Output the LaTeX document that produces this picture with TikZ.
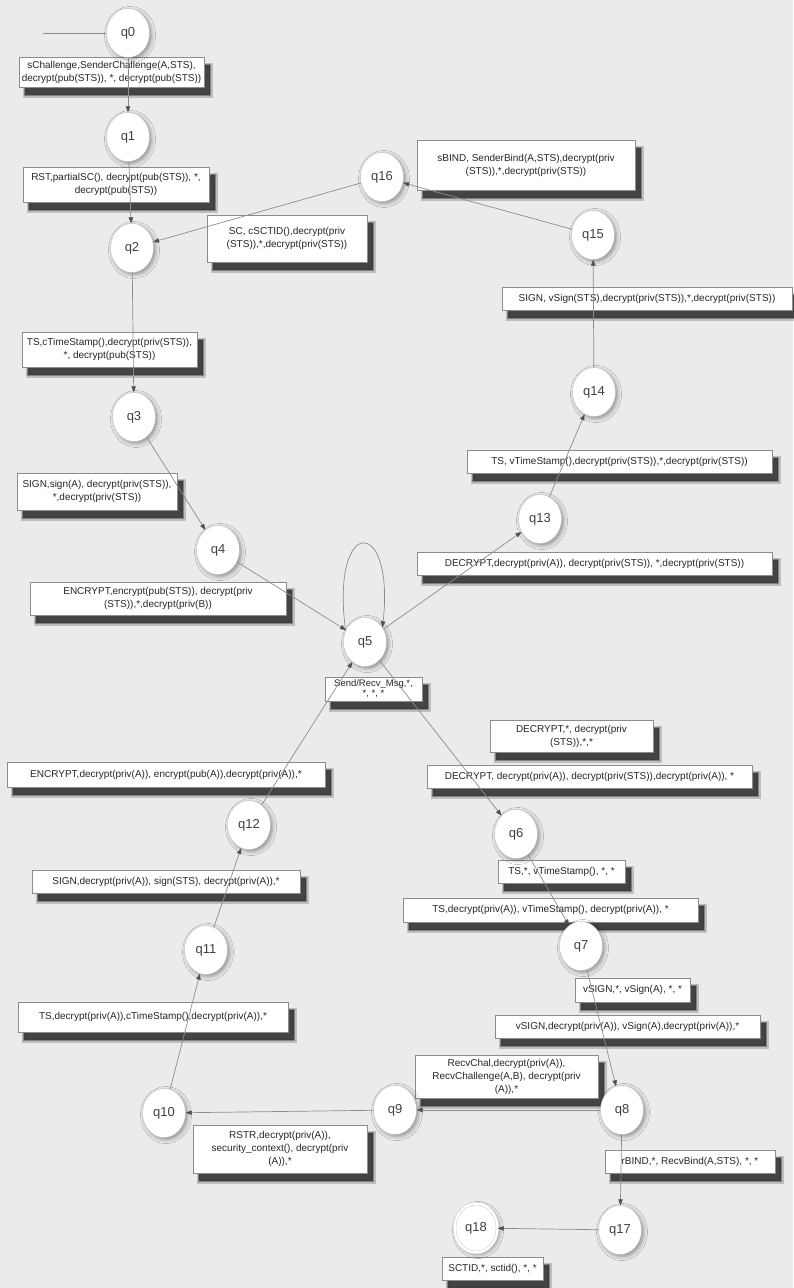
\documentclass[tikz,border=0pt]{standalone}
\usepackage{fontspec}
\setmainfont{Liberation Sans}
\usetikzlibrary{shapes.geometric,shadows.blur,arrows.meta}
\definecolor{bgc}{HTML}{EBEBEB}
\definecolor{edgec}{HTML}{8C8C8C}
\definecolor{tipc}{HTML}{505050}
\definecolor{shc}{HTML}{3A3A3A}
\begin{document}
\begin{tikzpicture}[x=1pt,y=-1pt,
  state/.style={ellipse, draw=black!25, fill=white, minimum width=43pt, minimum height=49pt, inner sep=0pt,
    font=\fontsize{13}{14}\selectfont, text=black!75,
    blur shadow={shadow xshift=2pt, shadow yshift=-2pt, shadow blur radius=4pt, shadow opacity=40}},
  lbl/.style={rectangle, draw=black!45, fill=white, align=center, inner sep=1pt,
    font=\fontsize{10}{13}\selectfont, text=black!85,
    preaction={draw=shc, line width=5pt, fill=shc, opacity=0.25, transform canvas={shift={(6pt,-8pt)}}},
    preaction={draw=shc, line width=2.5pt, fill=shc, opacity=0.45, transform canvas={shift={(6pt,-8pt)}}},
    preaction={fill=shc, opacity=0.85, transform canvas={shift={(6pt,-8pt)}}}},
  edge/.style={draw=edgec, line width=0.7pt, -{Triangle[length=6pt,width=4.5pt,color=tipc]}}
]
\fill[bgc] (0,0) rectangle (793,1288);
\useasboundingbox (0,0) rectangle (793,1288);

% transition labels
\node[lbl, minimum width=185pt, minimum height=30pt] (l0) at (111.5,72) {sChallenge,SenderChallenge(A,STS),\\decrypt(pub(STS)), *, decrypt(pub(STS))};
\node[lbl, minimum width=186pt, minimum height=35pt] (l1) at (116,184.5) {RST,partialSC(), decrypt(pub(STS)), *,\\decrypt(pub(STS))};
\node[lbl, minimum width=160pt, minimum height=47pt] (l2) at (287,238.5) {SC, cSCTID(),decrypt(priv\\(STS)),*,decrypt(priv(STS))};
\node[lbl, minimum width=218pt, minimum height=50pt] (l3) at (526,165) {sBIND, SenderBind(A,STS),decrypt(priv\\(STS)),*,decrypt(priv(STS))};
\node[lbl, minimum width=290pt, minimum height=23pt] (l4) at (647,298.5) {SIGN, vSign(STS),decrypt(priv(STS)),*,decrypt(priv(STS))};
\node[lbl, minimum width=175pt, minimum height=35pt] (l5) at (109.5,349.5) {TS,cTimeStamp(),decrypt(priv(STS)),\\*, decrypt(pub(STS))};
\node[lbl, minimum width=305pt, minimum height=23pt] (l6) at (619.5,461.5) {TS, vTimeStamp(),decrypt(priv(STS)),*,decrypt(priv(STS))};
\node[lbl, minimum width=160pt, minimum height=37pt] (l7) at (97,491.5) {SIGN,sign(A), decrypt(priv(STS)),\\*,decrypt(priv(STS))};
\node[lbl, minimum width=256pt, minimum height=33pt] (l8) at (158,598.5) {ENCRYPT,encrypt(pub(STS)), decrypt(priv\\(STS)),*,decrypt(priv(B))};
\node[lbl, minimum width=355pt, minimum height=23pt] (l9) at (594.5,563.5) {DECRYPT,decrypt(priv(A)), decrypt(priv(STS)), *,decrypt(priv(STS))};
\node[lbl, minimum width=97pt, minimum height=24pt, inner sep=0.5pt, font=\fontsize{9.5}{10}\selectfont] (l10) at (373.5,689) {Send/Recv\_Msg,*,\\*, *, *};
\node[lbl, minimum width=318pt, minimum height=25pt] (l11) at (166,774.5) {ENCRYPT,decrypt(priv(A)), encrypt(pub(A)),decrypt(priv(A)),*};
\node[lbl, minimum width=163pt, minimum height=32pt] (l12) at (571.5,736) {DECRYPT,*, decrypt(priv\\(STS)),*,*};
\node[lbl, minimum width=325pt, minimum height=23pt] (l13) at (589.5,776.5) {DECRYPT, decrypt(priv(A)), decrypt(priv(STS)),decrypt(priv(A)), *};
\node[lbl, minimum width=268pt, minimum height=23pt] (l14) at (166,881.5) {SIGN,decrypt(priv(A)), sign(STS), decrypt(priv(A)),*};
\node[lbl, minimum width=127pt, minimum height=23pt] (l15) at (561.5,871.5) {TS,*, vTimeStamp(), *, *};
\node[lbl, minimum width=295pt, minimum height=24pt] (l16) at (550.5,910) {TS,decrypt(priv(A)), vTimeStamp(), decrypt(priv(A)), *};
\node[lbl, minimum width=115pt, minimum height=24pt] (l17) at (632.5,990) {vSIGN,*, vSign(A), *, *};
\node[lbl, minimum width=265pt, minimum height=23pt] (l18) at (627.5,1026.5) {vSIGN,decrypt(priv(A)), vSign(A),decrypt(priv(A)),*};
\node[lbl, minimum width=270pt, minimum height=30pt] (l19) at (153,1017) {TS,decrypt(priv(A)),cTimeStamp(),decrypt(priv(A)),*};
\node[lbl, minimum width=183pt, minimum height=43pt] (l20) at (506.5,1076.5) {RecvChal,decrypt(priv(A)),\\RecvChallenge(A,B), decrypt(priv\\(A)),*};
\node[lbl, minimum width=174pt, minimum height=48pt] (l21) at (280,1149) {RSTR,decrypt(priv(A)),\\security\_context(), decrypt(priv\\(A)),*};
\node[lbl, minimum width=170pt, minimum height=23pt] (l22) at (690,1161.5) {rBIND,*, RecvBind(A,STS), *, *};
\node[lbl, minimum width=101pt, minimum height=23pt] (l23) at (492.5,1268.5) {SCTID,*, sctid(), *, *};

% states
\node[state] (q0) at (128,33) {q0};
\node[state] (q1) at (128,137) {q1};
\node[state] (q2) at (132,248) {q2};
\node[state] (q3) at (134,417) {q3};
\node[state] (q4) at (218,550) {q4};
\node[state] (q5) at (365,642) {q5};
\node[state] (q6) at (516,834) {q6};
\node[state] (q7) at (581,946) {q7};
\node[state] (q8) at (622,1110) {q8};
\node[state] (q9) at (395,1110) {q9};
\node[state] (q10) at (164,1113) {q10};
\node[state] (q11) at (206,950) {q11};
\node[state] (q12) at (249,825) {q12};
\node[state] (q13) at (540,519) {q13};
\node[state] (q14) at (594,392) {q14};
\node[state] (q15) at (593,235) {q15};
\node[state] (q16) at (382,177) {q16};
\node[state] (q17) at (620,1230) {q17};
\node[state, double=white, double distance=2.5pt] (q18) at (476,1228) {q18};

% transitions
\coordinate (init) at (43,33);
\draw[draw=edgec, line width=0.7pt] (init) -- (q0);
\draw[edge] (q0) -- (q1);
\draw[edge] (q1) -- (q2);
\draw[edge] (q2) -- (q3);
\draw[edge] (q3) -- (q4);
\draw[edge] (q4) -- (q5);
\draw[edge] (q5.150) .. controls (330,515) and (395,515) .. (q5.40);
\draw[edge] (q5) -- (q13);
\draw[edge] (q13) -- (q14);
\draw[edge] (q14) -- (q15);
\draw[edge] (q15) -- (q16);
\draw[edge] (q16) -- (q2);
\draw[edge] (q5) -- (q6);
\draw[edge] (q6) -- (q7);
\draw[edge] (q7) -- (q8);
\draw[edge] (q8) -- (q9);
\draw[edge] (q9) -- (q10);
\draw[edge] (q10) -- (q11);
\draw[edge] (q11) -- (q12);
\draw[edge] (q12) -- (q5);
\draw[edge] (q8) -- (q17);
\draw[edge] (q17) -- (q18);
\end{tikzpicture}
\end{document}
